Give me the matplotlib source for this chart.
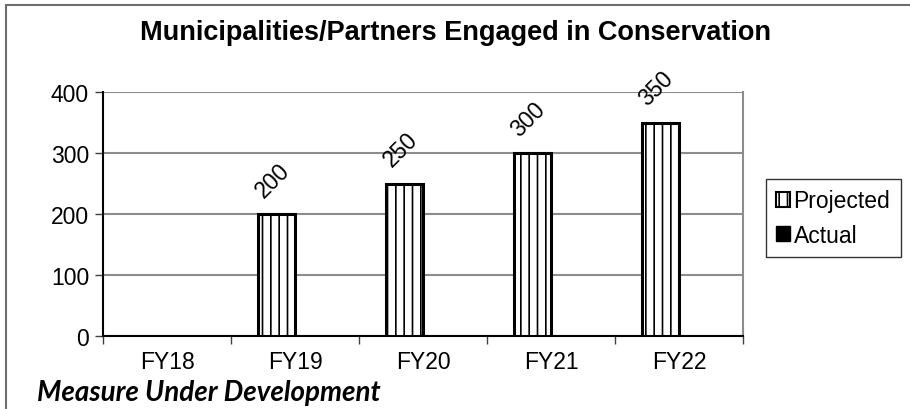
import numpy as np
import matplotlib
matplotlib.use("Agg")
import matplotlib.pyplot as plt
from matplotlib.patches import Patch
from matplotlib.lines import Line2D

# Werte
categories = ["FY18", "FY19", "FY20", "FY21", "FY22"]
projected = [np.nan, 200, 250, 300, 350]
actual = [np.nan, np.nan, np.nan, np.nan, np.nan]
y_ticks = [0, 100, 200, 300, 400]

plt.rcParams["font.family"] = ["Liberation Sans", "DejaVu Sans"]
plt.rcParams["hatch.linewidth"] = 1.2

fig = plt.figure(figsize=(9.1, 4.1), dpi=100)
ax = fig.add_axes([103 / 910, 73 / 410, 640 / 910, 244 / 410])

x = np.arange(len(categories))
w = 0.29
bars = ax.bar(x - w / 2, projected, w, facecolor="white", edgecolor="black",
              linewidth=2.2, hatch="||", zorder=3)
ax.bar(x + w / 2, actual, w, color="black", zorder=3)

for xi, v in zip(x, projected):
    if np.isnan(v):
        continue
    ax.annotate(f"{v:.0f}", (xi - w / 2, v), xytext=(-3, 9),
                textcoords="offset points", ha="center", va="bottom",
                rotation=45, fontsize=16.5)

ax.set_xlim(-0.5, len(categories) - 0.5)
ax.set_ylim(0, 400)
ax.set_yticks(y_ticks)
ax.set_xticks(x)
ax.set_xticklabels(categories)
ax.set_xticks(np.arange(-0.5, len(categories)), minor=True)
ax.tick_params(axis="x", which="major", length=0, pad=10, labelsize=16.5)
ax.tick_params(axis="x", which="minor", length=6, width=1, color="#404040")
ax.tick_params(axis="y", length=6, width=1, color="#404040", labelsize=16.5, pad=4)

ax.grid(axis="y", color="#8c8c8c", linewidth=1.5, zorder=0)
ax.set_axisbelow(True)
ax.spines["left"].set_color("black")
ax.spines["bottom"].set_color("black")
ax.spines["left"].set_linewidth(1.5)
ax.spines["bottom"].set_linewidth(1.5)
ax.spines["top"].set_visible(False)
ax.spines["right"].set_color("#8c8c8c")
ax.spines["right"].set_linewidth(1.5)

fig.text(455 / 910, 1 - 33 / 410, "Municipalities/Partners Engaged in Conservation",
         ha="center", va="center", fontsize=19.5, fontweight="bold")

handles = [Patch(facecolor="white", edgecolor="black", hatch="||", linewidth=1.5),
           Patch(facecolor="black", edgecolor="black")]
leg = fig.legend(handles, ["Projected", "Actual"], loc="upper left",
                 bbox_to_anchor=(766 / 910, 1 - 180 / 410), fontsize=16.5,
                 fancybox=False, frameon=True, handlelength=0.6, handleheight=0.6,
                 handletextpad=0.15, borderpad=0.45, labelspacing=0.5,
                 borderaxespad=0)
leg.get_frame().set_edgecolor("black")
leg.get_frame().set_linewidth(1)

# Rahmen um das Diagramm (rechts und unten abgeschnitten)
fig.add_artist(Line2D([6 / 910, 6 / 910], [0, 1 - 6 / 410], color="#6e6e6e", lw=1.5))
fig.add_artist(Line2D([6 / 910, 1], [1 - 6 / 410, 1 - 6 / 410], color="#6e6e6e", lw=1.5))

fig.text(37 / 910, 1 - 401 / 410, "Measure Under Development", ha="left", va="baseline",
         fontsize=20, fontweight="bold", fontstyle="italic", family="Lato")

fig.savefig("out.png", dpi=100)
